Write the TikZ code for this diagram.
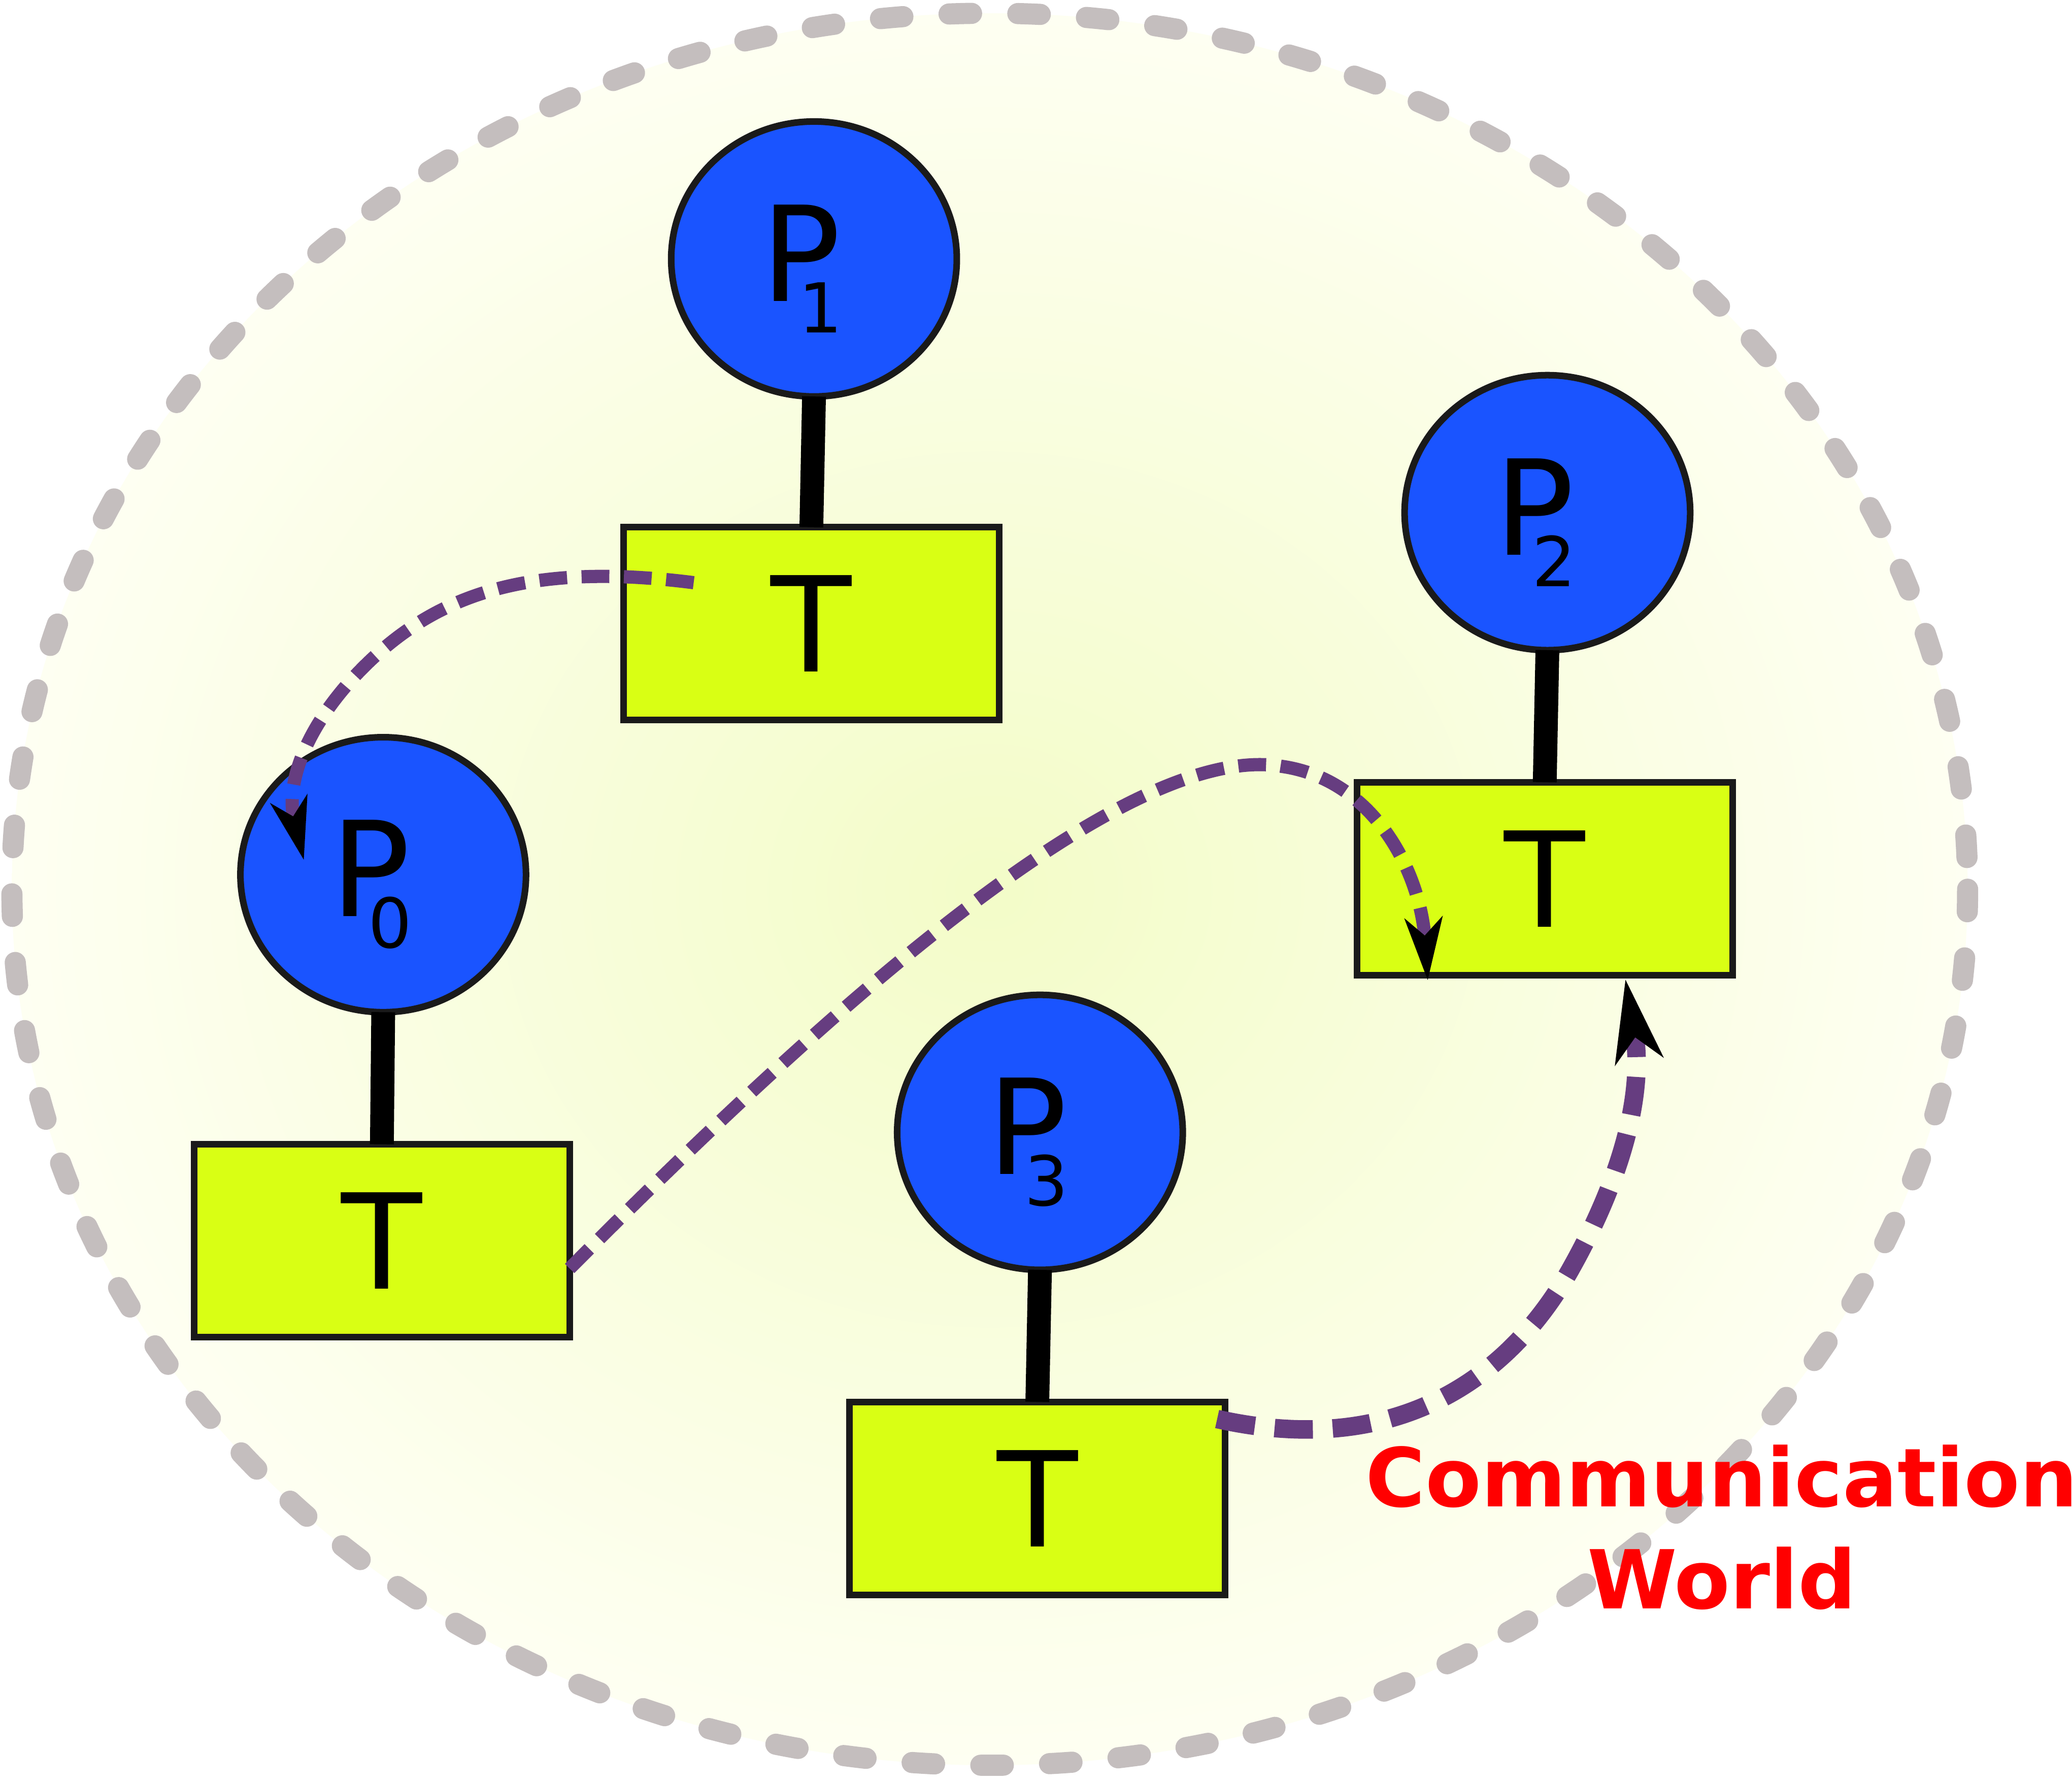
\documentclass[tikz,border=0pt]{standalone}
\usepackage{fontspec}
\setmainfont{DejaVu Sans}
\usetikzlibrary{arrows.meta,shapes.geometric,positioning}

\definecolor{procblue}{RGB}{26,84,255}
\definecolor{taskgreen}{RGB}{217,255,20}
\definecolor{edgegray}{RGB}{26,26,26}
\definecolor{msgpurple}{RGB}{102,61,128}
\definecolor{worldgray}{RGB}{196,190,190}
\definecolor{glowin}{RGB}{243,252,200}
\definecolor{glowout}{RGB}{254,255,242}

\newcommand{\proclabel}[1]{P\kern-0.32cm\raisebox{-0.24cm}{\fontsize{14.8}{16}\selectfont #1}}

\begin{document}
\begin{tikzpicture}[x=0.01cm,y=-0.01cm,
	proc/.style={ellipse,draw=edgegray,fill=procblue,line width=0.05cm,minimum width=2.16cm,minimum height=2.08cm,inner sep=0pt,outer sep=0pt},
	ptext/.style={font=\fontsize{28.45}{34}\selectfont,inner sep=0pt,xshift=-0.091cm,yshift=-0.074cm},
	task/.style={rectangle,draw=edgegray,fill=taskgreen,line width=0.05cm,minimum width=2.84cm,minimum height=1.46cm,inner sep=0pt,outer sep=0pt,font=\fontsize{28.45}{34}\selectfont},
	link/.style={line width=0.18cm,black},
	world/.style={worldgray,line width=0.16cm,line cap=round,dash pattern=on 0.17cm off 0.35cm},
	msg/.style={msgpurple,line width=0.1cm,dash pattern=on 0.21cm off 0.11cm},
	bigmsg/.style={msgpurple,line width=0.14cm,dash pattern=on 0.29cm off 0.15cm},
	msgtip/.style={-{Stealth[black,length=0.47cm,width=0.28cm,inset=0.13cm]}},
	bigtip/.style={-{Stealth[black,length=0.62cm,width=0.36cm,inset=0.175cm]}}
	]
			\fill[white] (0,0) rectangle (1568,1350);
			\useasboundingbox (0,0) rectangle (1568,1350);

			% communication world
			\shade[inner color=glowin,outer color=glowout] (749,673) ellipse [x radius=740, y radius=663];
			\draw[world] (749,673) ellipse [x radius=740, y radius=663];

			% processes
			\node[proc] (p1) at (616,196) {};
			\node[proc] (p2) at (1171,388) {};
			\node[proc] (p0) at (290,662) {};
			\node[proc] (p3) at (787,857) {};
			\node[ptext] (p1txt) at (p1.center) {\proclabel{1}};
			\node[ptext] (p2txt) at (p2.center) {\proclabel{2}};
			\node[ptext] (p0txt) at (p0.center) {\proclabel{0}};
			\node[ptext] (p3txt) at (p3.center) {\proclabel{3}};

			% tasks
			\node[task] (t1) at (614,472) {T};
			\node[task] (t2) at (1169,665) {T};
			\node[task] (t0) at (289,939) {T};
			\node[task] (t3) at (785,1134) {T};

			\draw [link] (p1.south) to (t1.north);
			\draw [link] (p2.south) to (t2.north);
			\draw [link] (p0.south) to (t0.north);
			\draw [link] (p3.south) to (t3.north);

			% messages
			\coordinate (m1s) at ([xshift=0.53cm,yshift=-0.42cm]t1.north west);
			\coordinate (m1e) at ([xshift=-0.60cm,yshift=0.11cm]p0.center);
			\coordinate (m2s) at ([yshift=-0.21cm]t0.east);
			\coordinate (m2e) at ([xshift=0.535cm,yshift=-0.04cm]t2.south west);
			\coordinate (m3s) at ([xshift=-0.06cm,yshift=-0.13cm]t3.north east);
			\coordinate (m3e) at ([xshift=0.61cm,yshift=-0.03cm]t2.south);

			\draw [msg,msgtip] (m1s) .. controls (400,425) and (330,450) .. (275,505) .. controls (235,545) and (215,590) .. (m1e);
			\draw [msg,msgtip] (m2s) .. controls (620,770) and (850,560) .. (970,580) .. controls (1040,590) and (1075,660) .. (m2e);
			\draw [bigmsg,bigtip] (m3s) .. controls (1060,1105) and (1145,1040) .. (1190,958) .. controls (1225,895) and (1245,830) .. (m3e);

			\node[font=\bfseries\fontsize{17.5}{21.9}\selectfont,text=red,align=center] (commlabel) at (1303,1156) {Communication\\World};
		\end{tikzpicture}
\end{document}
